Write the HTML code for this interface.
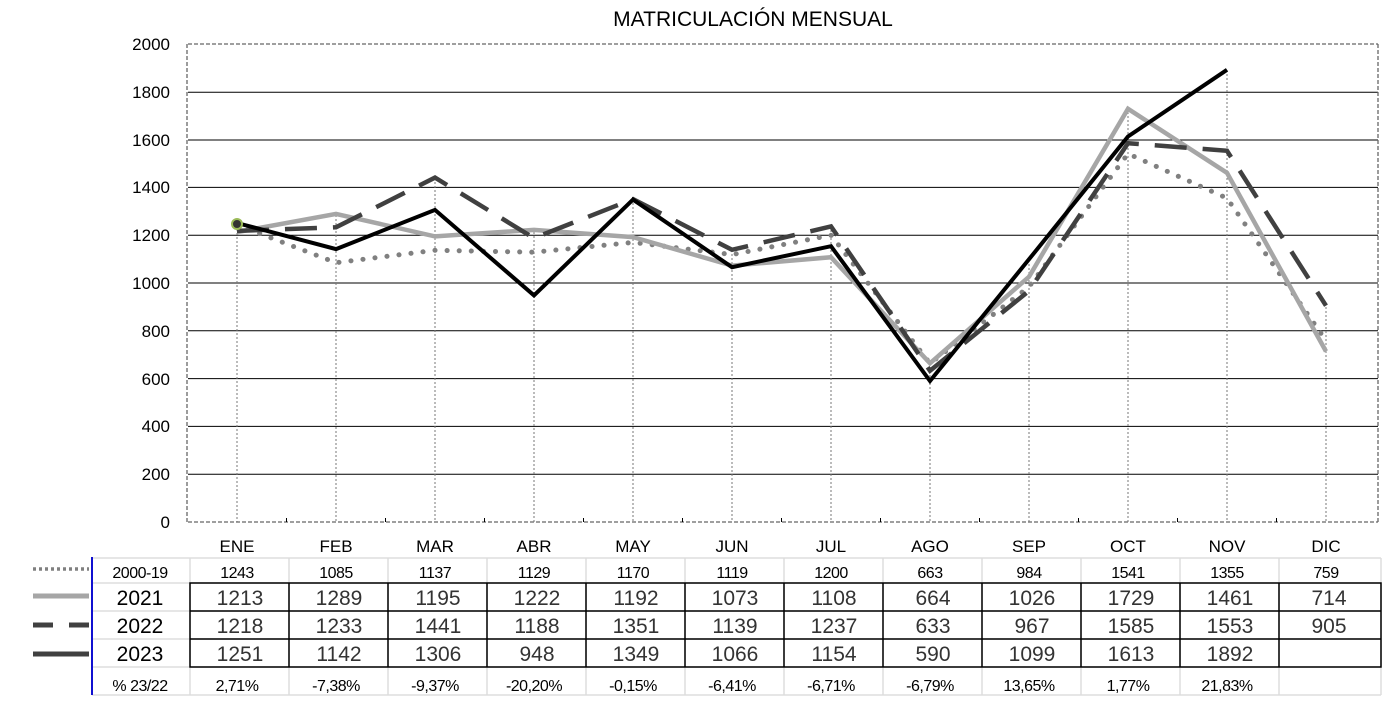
<!DOCTYPE html>
<html><head><meta charset="utf-8"><style>
body{margin:0;background:#fff;}
svg text{font-family:"Liberation Sans",sans-serif;}
</style></head><body>
<svg width="1391" height="703" viewBox="0 0 1391 703" xmlns="http://www.w3.org/2000/svg">
<rect width="1391" height="703" fill="#fff"/>
<text x="753" y="26" font-size="21" text-anchor="middle" fill="#000">MATRICULACIÓN MENSUAL</text>
<g stroke="#000" stroke-width="1">
<line x1="188" y1="92.2" x2="1378" y2="92.2"/>
<line x1="188" y1="140" x2="1378" y2="140"/>
<line x1="188" y1="187.4" x2="1378" y2="187.4"/>
<line x1="188" y1="235.2" x2="1378" y2="235.2"/>
<line x1="188" y1="283" x2="1378" y2="283"/>
<line x1="188" y1="330.8" x2="1378" y2="330.8"/>
<line x1="188" y1="378.6" x2="1378" y2="378.6"/>
<line x1="188" y1="426.4" x2="1378" y2="426.4"/>
<line x1="188" y1="474.2" x2="1378" y2="474.2"/>
</g>
<g stroke="#666" stroke-width="1.3" stroke-dasharray="4,2" fill="none">
<line x1="188" y1="44" x2="1378" y2="44"/>
<line x1="188" y1="522" x2="1378" y2="522"/>
<line x1="187" y1="44" x2="187" y2="522"/>
<line x1="1378" y1="44" x2="1378" y2="522"/>
</g>
<g stroke="#777" stroke-width="1" stroke-dasharray="2,2">
<line x1="237" y1="225" x2="237" y2="522"/><line x1="336" y1="215" x2="336" y2="522"/>
<line x1="435" y1="178" x2="435" y2="522"/><line x1="534" y1="228" x2="534" y2="522"/>
<line x1="633" y1="199" x2="633" y2="522"/><line x1="732" y1="250" x2="732" y2="522"/>
<line x1="831" y1="226" x2="831" y2="522"/><line x1="930" y1="363" x2="930" y2="522"/>
<line x1="1029" y1="260" x2="1029" y2="522"/><line x1="1128" y1="108" x2="1128" y2="522"/>
<line x1="1227" y1="70" x2="1227" y2="522"/><line x1="1326" y1="307" x2="1326" y2="522"/>
</g>
<g stroke="#000" stroke-width="1">
<line x1="286.5" y1="518" x2="286.5" y2="522"/><line x1="385.5" y1="518" x2="385.5" y2="522"/>
<line x1="484.5" y1="518" x2="484.5" y2="522"/><line x1="583.5" y1="518" x2="583.5" y2="522"/>
<line x1="682.5" y1="518" x2="682.5" y2="522"/><line x1="781.5" y1="518" x2="781.5" y2="522"/>
<line x1="880.5" y1="518" x2="880.5" y2="522"/><line x1="979.5" y1="518" x2="979.5" y2="522"/>
<line x1="1078.5" y1="518" x2="1078.5" y2="522"/><line x1="1177.5" y1="518" x2="1177.5" y2="522"/>
<line x1="1276.5" y1="518" x2="1276.5" y2="522"/>
</g>
<g font-size="17" text-anchor="end" fill="#000">
<text x="170" y="50">2000</text><text x="170" y="98">1800</text><text x="170" y="146">1600</text>
<text x="170" y="193">1400</text><text x="170" y="241">1200</text><text x="170" y="289">1000</text>
<text x="170" y="337">800</text><text x="170" y="385">600</text><text x="170" y="432">400</text>
<text x="170" y="480">200</text><text x="170" y="528">0</text>
</g>
<polyline fill="none" stroke="#808080" stroke-width="5" stroke-dasharray="0.1,12" stroke-linecap="round"
 points="237,224.9 336,262.7 435,250.3 534,252.2 633,242.4 732,254.6 831,235.2 930,363.5 1029,286.8 1128,153.7 1227,198.2 1326,340.6"/>
<polyline fill="none" stroke="#a6a6a6" stroke-width="4.5"
 points="237,232.1 336,213.9 435,236.4 534,229.9 633,237.1 732,265.6 831,257.2 930,363.3 1029,276.8 1128,108.8 1227,172.8 1326,351.4"/>
<polyline fill="none" stroke="#404040" stroke-width="4.5" stroke-dasharray="32,16"
 points="237,230.9 336,227.3 435,177.6 534,238.1 633,199.1 732,249.8 831,226.4 930,370.7 1029,290.9 1128,143.2 1227,150.8 1326,305.7"/>
<polyline fill="none" stroke="#000" stroke-width="4"
 points="237,223 336,249.1 435,209.9 534,295.4 633,199.6 732,267.2 831,246.2 930,381 1029,259.3 1128,136.5 1227,69.8"/>
<circle cx="237" cy="224" r="5" fill="#333" stroke="#9bbb59" stroke-width="2"/>
<g font-size="17" text-anchor="middle" fill="#000">
<text x="237" y="552">ENE</text><text x="336" y="552">FEB</text><text x="435" y="552">MAR</text>
<text x="534" y="552">ABR</text><text x="633" y="552">MAY</text><text x="732" y="552">JUN</text>
<text x="831" y="552">JUL</text><text x="930" y="552">AGO</text><text x="1029" y="552">SEP</text>
<text x="1128" y="552">OCT</text><text x="1227" y="552">NOV</text><text x="1326" y="552">DIC</text>
</g>
<g stroke="#ddd" stroke-width="1.5" fill="none">
<line x1="92" y1="558" x2="1381" y2="558"/>
<line x1="92" y1="583" x2="1381" y2="583"/>
<line x1="92" y1="611" x2="1381" y2="611"/>
<line x1="92" y1="639" x2="1381" y2="639"/>
<line x1="92" y1="667" x2="1381" y2="667"/>
<line x1="92" y1="695" x2="1381" y2="695"/>
<line x1="190" y1="558" x2="190" y2="695"/><line x1="289" y1="558" x2="289" y2="695"/>
<line x1="388" y1="558" x2="388" y2="695"/><line x1="487" y1="558" x2="487" y2="695"/>
<line x1="586" y1="558" x2="586" y2="695"/><line x1="685" y1="558" x2="685" y2="695"/>
<line x1="784" y1="558" x2="784" y2="695"/><line x1="883" y1="558" x2="883" y2="695"/>
<line x1="982" y1="558" x2="982" y2="695"/><line x1="1081" y1="558" x2="1081" y2="695"/>
<line x1="1180" y1="558" x2="1180" y2="695"/><line x1="1279" y1="558" x2="1279" y2="695"/>
<line x1="1381" y1="558" x2="1381" y2="695"/>
</g>
<g stroke="#000" stroke-width="1.5" fill="none">
<rect x="190" y="583" width="1191" height="84"/>
<line x1="190" y1="611" x2="1381" y2="611"/><line x1="190" y1="639" x2="1381" y2="639"/>
<line x1="289" y1="583" x2="289" y2="667"/><line x1="388" y1="583" x2="388" y2="667"/>
<line x1="487" y1="583" x2="487" y2="667"/><line x1="586" y1="583" x2="586" y2="667"/>
<line x1="685" y1="583" x2="685" y2="667"/><line x1="784" y1="583" x2="784" y2="667"/>
<line x1="883" y1="583" x2="883" y2="667"/><line x1="982" y1="583" x2="982" y2="667"/>
<line x1="1081" y1="583" x2="1081" y2="667"/><line x1="1180" y1="583" x2="1180" y2="667"/>
<line x1="1279" y1="583" x2="1279" y2="667"/>
</g>
<line x1="92" y1="557" x2="92" y2="695" stroke="#1010d0" stroke-width="2"/>
<line x1="33" y1="569" x2="89" y2="569" stroke="#808080" stroke-width="3.5" stroke-dasharray="3,3"/>
<line x1="33" y1="596" x2="89" y2="596" stroke="#a6a6a6" stroke-width="5"/>
<line x1="33" y1="625" x2="89" y2="625" stroke="#404040" stroke-width="5" stroke-dasharray="20,16"/>
<line x1="33" y1="654" x2="89" y2="654" stroke="#404040" stroke-width="5"/>
<g font-size="16" text-anchor="middle" fill="#000" letter-spacing="-0.5">
<text x="140" y="578">2000-19</text>
<text x="237" y="578">1243</text><text x="336" y="578">1085</text><text x="435" y="578">1137</text>
<text x="534" y="578">1129</text><text x="633" y="578">1170</text><text x="732" y="578">1119</text>
<text x="831" y="578">1200</text><text x="930" y="578">663</text><text x="1029" y="578">984</text>
<text x="1128" y="578">1541</text><text x="1227" y="578">1355</text><text x="1326" y="578">759</text>
<text x="140" y="691">% 23/22</text>
<text x="237" y="691">2,71%</text><text x="336" y="691">-7,38%</text><text x="435" y="691">-9,37%</text>
<text x="534" y="691">-20,20%</text><text x="633" y="691">-0,15%</text><text x="732" y="691">-6,41%</text>
<text x="831" y="691">-6,71%</text><text x="930" y="691">-6,79%</text><text x="1029" y="691">13,65%</text>
<text x="1128" y="691">1,77%</text><text x="1227" y="691">21,83%</text>
</g>
<g font-size="21" text-anchor="middle" fill="#000">
<text x="140" y="605">2021</text><text x="140" y="633">2022</text><text x="140" y="661">2023</text>
</g>
<g font-size="21" text-anchor="middle" fill="#333">
<text x="240" y="605">1213</text><text x="339" y="605">1289</text><text x="438" y="605">1195</text>
<text x="537" y="605">1222</text><text x="636" y="605">1192</text><text x="735" y="605">1073</text>
<text x="834" y="605">1108</text><text x="933" y="605">664</text><text x="1032" y="605">1026</text>
<text x="1131" y="605">1729</text><text x="1230" y="605">1461</text><text x="1329" y="605">714</text>
<text x="240" y="633">1218</text><text x="339" y="633">1233</text><text x="438" y="633">1441</text>
<text x="537" y="633">1188</text><text x="636" y="633">1351</text><text x="735" y="633">1139</text>
<text x="834" y="633">1237</text><text x="933" y="633">633</text><text x="1032" y="633">967</text>
<text x="1131" y="633">1585</text><text x="1230" y="633">1553</text><text x="1329" y="633">905</text>
<text x="240" y="661">1251</text><text x="339" y="661">1142</text><text x="438" y="661">1306</text>
<text x="537" y="661">948</text><text x="636" y="661">1349</text><text x="735" y="661">1066</text>
<text x="834" y="661">1154</text><text x="933" y="661">590</text><text x="1032" y="661">1099</text>
<text x="1131" y="661">1613</text><text x="1230" y="661">1892</text>
</g>
</svg>
</body></html>
